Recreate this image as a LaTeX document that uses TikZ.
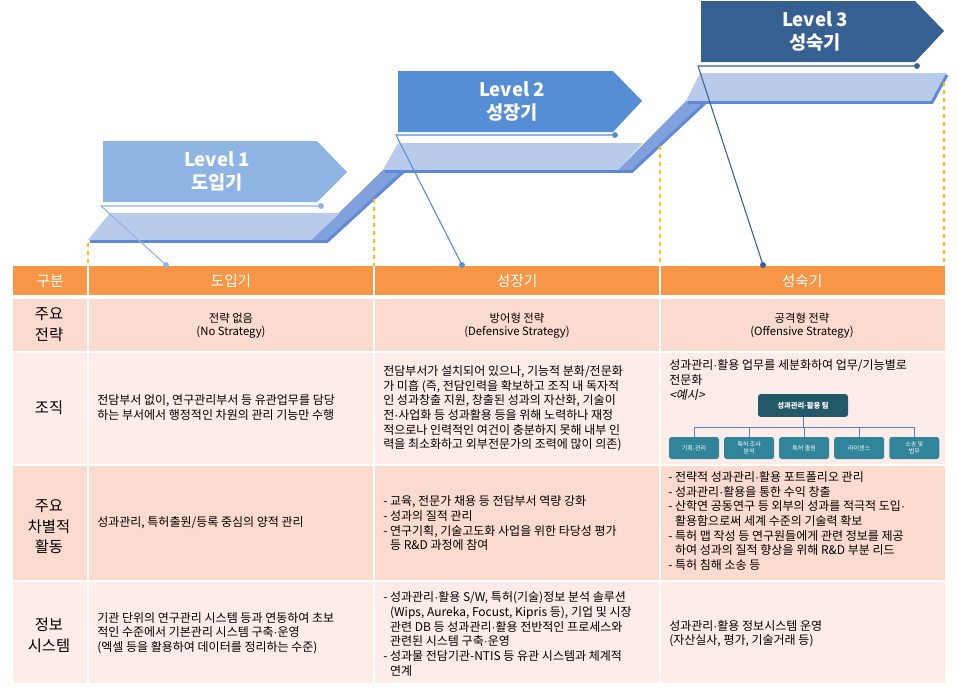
\documentclass[tikz,border=0pt]{standalone}
\usepackage{fontspec}
\setmainfont{Noto Sans CJK KR}
\newfontfamily\slantko[FakeSlant=0.2]{Noto Sans CJK KR}
\newfontfamily\dotfont{Liberation Sans}
\newcommand\mdot{{\dotfont ·}}
\usetikzlibrary{positioning}

\definecolor{hdrorange}{RGB}{247,150,70}
\definecolor{rowdark}{RGB}{251,219,207}
\definecolor{rowlight}{RGB}{253,236,231}
\definecolor{facelight}{RGB}{185,203,235}
\definecolor{rampblue}{RGB}{128,161,222}
\definecolor{edgeblue}{RGB}{96,137,212}
\definecolor{lvone}{RGB}{142,180,227}
\definecolor{lvtwo}{RGB}{85,142,213}
\definecolor{lvthree}{RGB}{55,96,146}
\definecolor{teamdark}{RGB}{35,88,105}
\definecolor{unitteal}{RGB}{49,133,155}
\definecolor{orgblue}{RGB}{84,130,190}
\definecolor{guideyellow}{RGB}{255,192,0}

\tikzset{
  lvtext/.style={text=white, align=center, font=\fontsize{14}{17}\selectfont\bfseries},
  hdrtext/.style={text=white, font=\fontsize{11}{13}\selectfont},
  rowlabel/.style={align=center, font=\fontsize{11.5}{15.5}\selectfont},
  cellmid/.style={align=center, inner sep=0pt, font=\fontsize{8.5}{9.75}\selectfont},
  celltext/.style={align=left, anchor=west, inner sep=0pt, font=\fontsize{9}{11}\selectfont},
  leadline/.style={line width=0.8pt},
  guide/.style={draw=guideyellow, dashed, line width=0.8pt},
  orgteam/.style={fill=teamdark, rounded corners=2pt, minimum width=67.5pt, minimum height=17pt,
    text=white, font=\fontsize{5.5}{6.5}\selectfont\bfseries},
  orgunit/.style={fill=unitteal, rounded corners=2pt, minimum width=37.5pt, minimum height=16.5pt,
    text=white, align=center, inner sep=1pt, font=\fontsize{4.5}{5.5}\selectfont},
  orgline/.style={draw=orgblue, line width=0.6pt},
}

\begin{document}
\begin{tikzpicture}[x=0.75pt,y=-0.75pt]
\useasboundingbox (0,0) rectangle (958,696);

% Ramps between the steps
\fill[rampblue] (311,240) -- (383,170) -- (405,172) -- (327,242) -- cycle;
\fill[rampblue] (617,171) -- (686,101) -- (707,103) -- (632,172) -- cycle;

% Top faces of the three steps
\fill[facelight] (88,240) -- (110,213) -- (340,213) -- (311,240) -- cycle;
\fill[facelight] (383,170) -- (398,143) -- (643,143) -- (617,171) -- cycle;
\fill[facelight] (686,101) -- (700,73) -- (947,73) -- (932,102) -- cycle;

% Darker front edges
\draw[edgeblue, line width=2.2pt] (90,241.5) -- (327,241.5) -- (403,172);
\draw[edgeblue, line width=2.2pt] (385,171.5) -- (632,171.5) -- (705,103);
\draw[edgeblue, line width=2.2pt] (688,102.5) -- (932,102.5) -- (947,75);

% Dashed guides down to the table
\draw[guide] (88,243) -- (88,266);
\draw[guide] (374,199) -- (374,266);
\draw[guide] (660,146) -- (660,266);
\draw[guide] (944,82) -- (944,266);

% Level arrows
\fill[lvone] (103,141) -- (317,141) -- (347,172) -- (317,202) -- (103,202) -- cycle;
\node[lvtext] (lvl1) at (217,171.5) {Level 1\\도입기};

\fill[lvtwo] (398,71) -- (613,71) -- (642,101) -- (613,132) -- (398,132) -- cycle;
\node[lvtext] (lvl2) at (512,101.5) {Level 2\\성장기};

\fill[lvthree] (701,1) -- (915,1) -- (944,31) -- (915,62) -- (701,62) -- cycle;
\node[lvtext] (lvl3) at (815,31.5) {Level 3\\성숙기};

% Header row
\fill[hdrorange] (13,266) rectangle (945,295);

% Body rows
\fill[rowdark] (13,299) rectangle (945,351);
\fill[rowlight] (13,353) rectangle (945,464);
\fill[rowdark] (13,466) rectangle (945,580);
\fill[rowlight] (13,582) rectangle (945,683);

% Column separators
\draw[white, line width=1pt] (88,266) -- (88,683) (374,266) -- (374,683) (660,266) -- (660,683);

% Leader lines from the levels to the header
\coordinate (l1a) at (101,206);
\coordinate (l1b) at (321,206);
\coordinate (l1c) at (166,265);
\draw[leadline, lvone] (l1b) -- (l1a) -- (l1c);
\fill[lvone] (l1b) circle (2.2pt) (l1c) circle (2.2pt);

\coordinate (l2a) at (396,135);
\coordinate (l2b) at (615,135);
\coordinate (l2c) at (462,265);
\draw[leadline, lvtwo] (l2b) -- (l2a) -- (l2c);
\fill[lvtwo] (l2b) circle (2.2pt) (l2c) circle (2.2pt);

\coordinate (l3a) at (698,66);
\coordinate (l3b) at (917,66);
\coordinate (l3c) at (763,265);
\draw[leadline, lvthree] (l3b) -- (l3a) -- (l3c);
\fill[lvthree] (l3b) circle (2.2pt) (l3c) circle (2.2pt);

% Header texts
\node[hdrtext] (hd0) at (50,281) {구분};
\node[hdrtext] (hd1) at (231,281) {도입기};
\node[hdrtext] (hd2) at (517,281) {성장기};
\node[hdrtext] (hd3) at (802,281) {성숙기};

% Row labels
\node[rowlabel] (lb1) at (49,325) {주요\\전략};
\node[rowlabel] (lb2) at (49,408) {조직};
\node[rowlabel] (lb3) at (49,527) {주요\\차별적\\활동};
\node[rowlabel] (lb4) at (49,635) {정보\\시스템};

% Row 1: strategy
\node[cellmid] (st1) at (231,325.5) {전략 없음\\(No Strategy)};
\node[cellmid] (st2) at (517,325.5) {방어형 전략\\(Defensive Strategy)};
\node[cellmid] (st3) at (802,325.5) {공격형 전략\\(Offensive Strategy)};

% Row 2: organisation
\node[celltext] (og1) at (97,407.5) {전담부서 없이, 연구관리부서 등 유관업무를 담당\\하는 부서에서 행정적인 차원의 관리 기능만 수행};
\node[celltext] (og2) at (383,408.5) {전담부서가 설치되어 있으나, 기능적 분화/전문화\\가 미흡 (즉, 전담인력을 확보하고 조직 내 독자적\\인 성과창출 지원, 창출된 성과의 자산화, 기술이\\전\mdot 사업화 등 성과활용 등을 위해 노력하나 재정\\적으로나 인력적인 여건이 충분하지 못해 내부 인\\력을 최소화하고 외부전문가의 조력에 많이 의존)};
\node[celltext] (og3) at (669,380) {성과관리\mdot 활용 업무를 세분화하여 업무/기능별로\\전문화\\{\slantko <예시>}};

% Org chart example
\node[orgteam] (team) at (803,405.5) {성과관리\mdot 활용 팀};
\node[orgunit] (unit1) at (694,448) {기획\mdot 관리};
\node[orgunit, right=3.4pt of unit1] (unit2) {특허 조사\\분석};
\node[orgunit, right=3.4pt of unit2] (unit3) {특허 출원};
\node[orgunit, right=3.4pt of unit3] (unit4) {라이센스};
\node[orgunit, right=3.4pt of unit4] (unit5) {소송 및\\법무};
\foreach \u in {1,...,5}
  \draw[orgline] (team.south) -- ++(0,10) -| (unit\u.north);

% Row 3: activities
\node[celltext] (ac1) at (97,523) {성과관리, 특허출원/등록 중심의 양적 관리};
\node[celltext] (ac2) at (383,523.5) {- 교육, 전문가 채용 등 전담부서 역량 강화\\- 성과의 질적 관리\\- 연구기획, 기술고도화 사업을 위한 타당성 평가\\\phantom{- }등 R\&D 과정에 참여};
\node[celltext] (ac3) at (668,521) {- 전략적 성과관리\mdot 활용 포트폴리오 관리\\- 성과관리\mdot 활용을 통한 수익 창출\\- 산학연 공동연구 등 외부의 성과를 적극적 도입\mdot\\\phantom{- }활용함으로써 세계 수준의 기술력 확보\\- 특허 맵 작성 등 연구원들에게 관련 정보를 제공\\\phantom{- }하여 성과의 질적 향상을 위해 R\&D 부분 리드\\- 특허 침해 소송 등};

% Row 4: information systems
\node[celltext] (is1) at (97,633) {기관 단위의 연구관리 시스템 등과 연동하여 초보\\적인 수준에서 기본관리 시스템 구축\mdot 운영\\(엑셀 등을 활용하여 데이터를 정리하는 수준)};
\node[celltext] (is2) at (383,634) {- 성과관리\mdot 활용 S/W, 특허(기술)정보 분석 솔루션\\\phantom{- }(Wips, Aureka, Focust, Kipris 등), 기업 및 시장\\\phantom{- }관련 DB 등 성과관리\mdot 활용 전반적인 프로세스와\\\phantom{- }관련된 시스템 구축\mdot 운영\\- 성과물 전담기관-NTIS 등 유관 시스템과 체계적\\\phantom{- }연계};
\node[celltext] (is3) at (669,633.5) {성과관리\mdot 활용 정보시스템 운영\\(자산실사, 평가, 기술거래 등)};

\end{tikzpicture}
\end{document}
